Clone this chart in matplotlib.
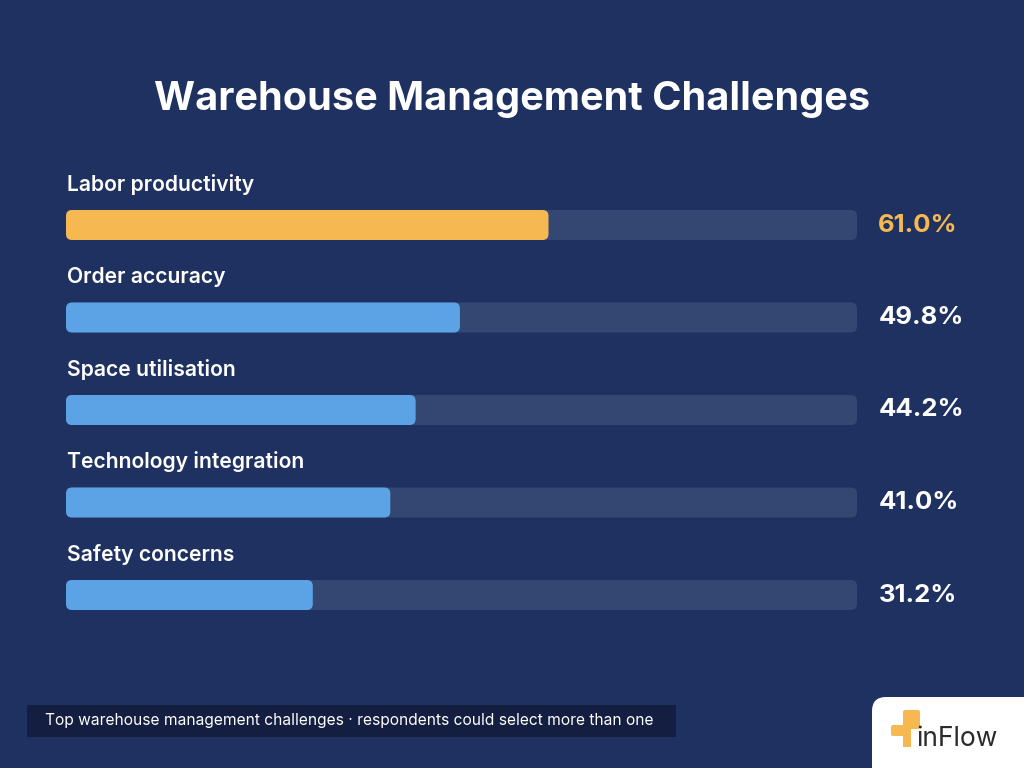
import numpy as np
import matplotlib
matplotlib.use('Agg')
import matplotlib.pyplot as plt
from matplotlib.patches import FancyBboxPatch, Rectangle

categories = ['Labor productivity', 'Order accuracy', 'Space utilisation',
              'Technology integration', 'Safety concerns']
values = [61.0, 49.8, 44.2, 41.0, 31.2]
value_labels = ['61.0%', '49.8%', '44.2%', '41.0%', '31.2%']

BG = '#1f3160'
TRACK = '#344772'
BLUE = '#5ca3e6'
ORANGE = '#f6b951'
FONT = ['Inter', 'DejaVu Sans']

W, H = 1024, 768
fig = plt.figure(figsize=(W / 100, H / 100), dpi=100, facecolor=BG)

# full-figure pixel axes for decoration
bg = fig.add_axes([0, 0, 1, 1])
bg.set_xlim(0, W)
bg.set_ylim(H, 0)
bg.axis('off')

bg.text(512, 99, 'Warehouse Management Challenges', color='white',
        fontsize=28.5, fontweight='bold', ha='center', va='center', family=FONT)

# footnote box
bg.add_patch(Rectangle((27, 705), 649, 32, facecolor='#131e40', edgecolor='none'))
bg.text(45, 721, 'Top warehouse management challenges \u00b7 respondents could select more than one',
        color='white', fontsize=11.2, ha='left', va='center', family=FONT)

# logo card
bg.add_patch(FancyBboxPatch((872, 697), 200, 120, boxstyle='round,pad=0,rounding_size=14',
                            facecolor='white', edgecolor='none'))
bg.add_patch(FancyBboxPatch((903, 710), 17, 19, boxstyle='round,pad=0,rounding_size=2',
                            facecolor=ORANGE, edgecolor='none'))
bg.add_patch(FancyBboxPatch((891, 725), 14, 11, boxstyle='round,pad=0,rounding_size=2',
                            facecolor=ORANGE, edgecolor='none'))
bg.add_patch(Rectangle((903, 726), 8, 21, facecolor=ORANGE, edgecolor='none'))
bg.text(916, 739, 'inFlow', color='#2b2b2b', fontsize=19, ha='left', va='center', family=FONT)

# bar chart axes
top_px, bot_px = 178.75, 641.25
ax = fig.add_axes([66 / W, 1 - bot_px / H, (857 - 66) / W, (bot_px - top_px) / H])
ax.set_xlim(0, 100)
ax.set_ylim(len(categories) - 0.5, -0.5)
ax.axis('off')

bar_h = 30 / 92.5
px_x = 791 / 100
px_y = 92.5
rad = 6 / px_x
aspect = (6 / px_y) / rad

for i, (cat, v, lab) in enumerate(zip(categories, values, value_labels)):
    color = ORANGE if i == 0 else BLUE
    ax.add_patch(FancyBboxPatch((0, i - bar_h / 2), 100, bar_h,
                                boxstyle=f'round,pad=0,rounding_size={rad}',
                                mutation_aspect=aspect, facecolor=TRACK,
                                edgecolor='none', clip_on=False))
    ax.add_patch(FancyBboxPatch((0, i - bar_h / 2), v, bar_h,
                                boxstyle=f'round,pad=0,rounding_size={rad}',
                                mutation_aspect=aspect, facecolor=color,
                                edgecolor='none', clip_on=False))
    ax.text(0.1, i - 0.44, cat, color='white', fontsize=15.2, fontweight='semibold',
            ha='left', va='center', family=FONT, clip_on=False)
    ax.text(102.7, i, lab, color=ORANGE if i == 0 else 'white', fontsize=18.5,
            fontweight='bold', ha='left', va='center', family=FONT, clip_on=False)

fig.savefig('out.png', dpi=100, facecolor=BG)
plt.close(fig)
